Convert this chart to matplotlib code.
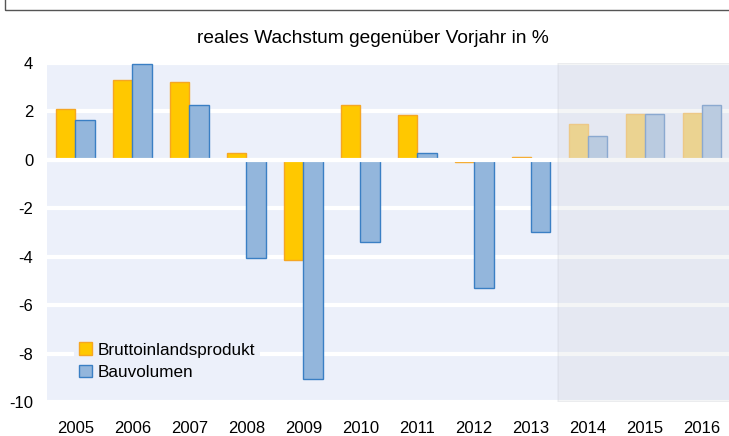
import matplotlib.pyplot as plt
import matplotlib.patches as mpatches
import numpy as np

plt.rcParams['font.family'] = ['Liberation Sans', 'DejaVu Sans']

years = ['2005', '2006', '2007', '2008', '2009', '2010', '2011', '2012',
         '2013', '2014', '2015', '2016']
bip = [2.1, 3.3, 3.2, 0.3, -4.15, 2.25, 1.85, -0.1, 0.1, 1.5, 1.9, 1.95]
bau = [1.65, 3.95, 2.25, -4.05, -9.05, -3.4, 0.27, -5.3, -3.0, 0.97, 1.88, 2.25]
n_forecast = 3
yticks = [4, 2, 0, -2, -4, -6, -8, -10]

fig = plt.figure(figsize=(7.29, 4.36), dpi=100)
ax = fig.add_axes([0.0645, 0.078, 0.9375, 0.7775])
ax.set_facecolor('#ECF0FA')

x = np.arange(len(years))
w = 0.34
n_hist = len(years) - n_forecast
bip_col = ['#FFC800'] * n_hist + ['#F4D684'] * n_forecast
bip_edge = ['#F5A623'] * n_hist + ['#F6C878'] * n_forecast
bau_col = ['#93B6DC'] * n_hist + ['#B8CCE4'] * n_forecast
bau_edge = ['#3A7FC4'] * n_hist + ['#7FA3D1'] * n_forecast

ax.bar(x - w / 2, bip, w, color=bip_col, edgecolor=bip_edge, linewidth=1,
       zorder=2, label='Bruttoinlandsprodukt')
ax.bar(x + w / 2, bau, w, color=bau_col, edgecolor=bau_edge, linewidth=1,
       zorder=2, label='Bauvolumen')

# forecast shading
ax.axvspan(n_hist - 0.53, len(years) - 0.5, facecolor='#C6C8CE', alpha=0.18,
           edgecolor='#B8BCC6', linewidth=1.2, zorder=4)

ax.set_xlim(-0.5, len(years) - 0.5)
ax.set_ylim(-10, 4)
ax.set_yticks(yticks)
ax.set_yticklabels([str(t) for t in yticks], fontsize=12)
ax.set_xticks(x)
ax.set_xticklabels(years, fontsize=12)
ax.tick_params(length=0)
ax.tick_params(axis='x', pad=14)
ax.tick_params(axis='y', pad=10)
ax.yaxis.grid(True, color='white', linewidth=3)
ax.set_axisbelow(True)
ax.axhline(0, color='white', linewidth=3, zorder=3)
for s in ax.spines.values():
    s.set_visible(False)

leg = ax.legend(loc='lower left', bbox_to_anchor=(0.04, 0.05), fontsize=12.3,
                frameon=True, facecolor='#ECF0FA', edgecolor='none',
                framealpha=1, handlelength=0.75, handleheight=0.75,
                handletextpad=0.3, labelspacing=0.42, borderaxespad=0,
                borderpad=0.3, fancybox=False)

fig.text(0.512, 0.912, 'reales Wachstum gegenüber Vorjahr in %', ha='center',
         va='center', fontsize=13.8)

# header box (cut off at top)
fig.patches.append(mpatches.Rectangle((0.007, 0.977), 1.0, 0.05,
                                      transform=fig.transFigure, fill=False,
                                      edgecolor='#555555', linewidth=1))

fig.savefig('out.png', dpi=100)
